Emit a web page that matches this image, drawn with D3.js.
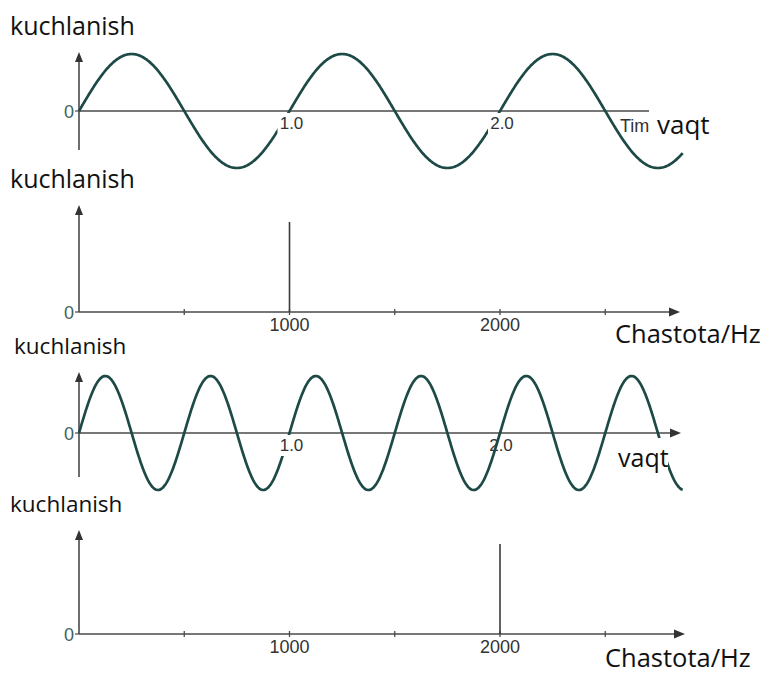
<!DOCTYPE html>
<html>
<head>
<meta charset="utf-8">
<script src="https://cdn.jsdelivr.net/npm/d3@7"></script>
<style>
  html, body { margin: 0; padding: 0; background: #fff; }
  svg { display: block; }
</style>
</head>
<body>
<div id="chart"></div>
<script>
// signal data
const sineFreqs = [1, 2];          // Hz of the sine in each time panel
const sineAmps = [1, 1];
const sineEnd = [2.87, 2.87];      // time where each drawn wave stops
const timeTicks = [1.0, 2.0];
const spikeFreqs = [1000, 2000];   // single spectral line per spectrum panel
const spikeAmps = [1, 1];
const freqTicks = [1000, 2000];
const freqMinorTicks = [500, 1500, 2500];

const yTitle = 'kuchlanish';
const timeTitle = 'vaqt';
const freqTitle = 'Chastota/Hz';

const W = 769, H = 673;
const waveColor = '#1d4a46';
const axisColor = '#4a4a4a';
const tickFont = '"Liberation Sans", Arial, sans-serif';
const titleFont = '"Open Sans", sans-serif';

const svg = d3.select('#chart').append('svg')
  .attr('width', W).attr('height', H);

const xTime = d3.scaleLinear().domain([0, 1]).range([79, 289.5]);
const xFreq = d3.scaleLinear().domain([0, 1000]).range([79, 289.5]);

function arrowUp(g, x, y) {
  g.append('path').attr('d', `M${x},${y} L${x - 4},${y + 10} L${x + 4},${y + 10} Z`).attr('fill', '#333');
}
function arrowRight(g, x, y) {
  g.append('path').attr('d', `M${x},${y} L${x - 11},${y - 4.5} L${x - 11},${y + 4.5} Z`).attr('fill', '#333');
}
function title(g, txt, x, y, size) {
  g.append('text').attr('x', x).attr('y', y).attr('font-family', titleFont)
    .attr('font-size', size).attr('fill', '#111').text(txt);
}
function zeroLabel(g, y0) {
  g.append('line').attr('x1', 75).attr('x2', 79).attr('y1', y0).attr('y2', y0)
    .attr('stroke', axisColor).attr('stroke-width', 1.2);
  g.append('text').attr('x', 74).attr('y', y0 + 6.5).attr('text-anchor', 'end')
    .attr('font-family', tickFont).attr('font-size', 18).attr('fill', '#3d6360').text('0');
}

// time panels
const timePanels = [
  { zero: 111, top: 52, bottom: 150, axisEnd: 680, titleY: 35, titleX: 10, titleSize: 25,
    maskTicks: [true, true], timeLbl: [657, 134], timeSize: 26, timeBox: [649, 100, 72, 47], showTime: true },
  { zero: 433, top: 372, bottom: 477, axisEnd: 681, titleY: 354, titleX: 14, titleSize: 22.5,
    maskTicks: [true, false], timeLbl: [618, 467], timeSize: 25, timeBox: [615, 438, 53, 35], showTime: false }
];

timePanels.forEach((p, i) => {
  const g = svg.append('g');
  const y = d3.scaleLinear().domain([-1, 1]).range([p.zero + 57, p.zero - 57]);

  title(g, yTitle, p.titleX, p.titleY, p.titleSize);

  // axes
  g.append('line').attr('x1', 79).attr('x2', 79).attr('y1', p.bottom).attr('y2', p.top + 8)
    .attr('stroke', axisColor).attr('stroke-width', 1.6);
  arrowUp(g, 79, p.top);
  g.append('line').attr('x1', 79).attr('x2', p.axisEnd - 8).attr('y1', p.zero).attr('y2', p.zero)
    .attr('stroke', axisColor).attr('stroke-width', 1.6);
  arrowRight(g, p.axisEnd, p.zero);
  zeroLabel(g, p.zero);

  // unmasked tick labels sit under the wave
  timeTicks.forEach((t, k) => {
    if (!p.maskTicks[k]) {
      g.append('text').attr('x', xTime(t) + 1).attr('y', p.zero + 18).attr('text-anchor', 'middle')
        .attr('font-family', tickFont).attr('font-size', 17).attr('fill', '#333').text(t.toFixed(1));
    }
  });

  const pts = d3.range(0, sineEnd[i] + 1e-9, 0.004)
    .map(t => [t, sineAmps[i] * Math.sin(2 * Math.PI * sineFreqs[i] * t)]);
  g.append('path').datum(pts)
    .attr('d', d3.line().x(d => xTime(d[0])).y(d => y(d[1])))
    .attr('fill', 'none').attr('stroke', waveColor).attr('stroke-width', 2.7);

  // masked tick labels cover the wave with a white box
  timeTicks.forEach((t, k) => {
    if (p.maskTicks[k]) {
      const cx = xTime(t) + 2;
      g.append('rect').attr('x', cx - 14).attr('y', p.zero + 2).attr('width', 30).attr('height', 21).attr('fill', '#fff');
      g.append('text').attr('x', cx).attr('y', p.zero + 18).attr('text-anchor', 'middle')
        .attr('font-family', tickFont).attr('font-size', 17).attr('fill', '#333').text(t.toFixed(1));
    }
  });

  if (p.showTime) {
    g.append('text').attr('x', 620).attr('y', p.zero + 21).attr('font-family', tickFont)
      .attr('font-size', 18).attr('fill', '#333').text('Time');
  }
  g.append('rect').attr('x', p.timeBox[0]).attr('y', p.timeBox[1])
    .attr('width', p.timeBox[2]).attr('height', p.timeBox[3]).attr('fill', '#fff');
  title(g, timeTitle, p.timeLbl[0], p.timeLbl[1], p.timeSize);
});

// spectrum panels
const freqPanels = [
  { zero: 312, top: 205, axisEnd: 680, titleY: 188, titleX: 10, titleSize: 25, fLbl: [615, 343] },
  { zero: 634, top: 530, axisEnd: 685, titleY: 512, titleX: 10, titleSize: 22.5, fLbl: [605, 667] }
];

freqPanels.forEach((p, i) => {
  const g = svg.append('g');
  const y = d3.scaleLinear().domain([0, 1]).range([p.zero, p.zero - 90]);

  title(g, yTitle, p.titleX, p.titleY, p.titleSize);

  g.append('line').attr('x1', 79).attr('x2', 79).attr('y1', p.zero).attr('y2', p.top + 8)
    .attr('stroke', axisColor).attr('stroke-width', 1.6);
  arrowUp(g, 79, p.top);
  g.append('line').attr('x1', 79).attr('x2', p.axisEnd - 8).attr('y1', p.zero).attr('y2', p.zero)
    .attr('stroke', axisColor).attr('stroke-width', 1.6);
  arrowRight(g, p.axisEnd, p.zero);
  zeroLabel(g, p.zero);

  freqMinorTicks.concat(freqTicks).forEach(f => {
    g.append('line').attr('x1', xFreq(f)).attr('x2', xFreq(f)).attr('y1', p.zero - 3).attr('y2', p.zero + 3)
      .attr('stroke', axisColor).attr('stroke-width', 1.3);
  });

  g.append('line')
    .attr('x1', xFreq(spikeFreqs[i])).attr('x2', xFreq(spikeFreqs[i]))
    .attr('y1', y(0)).attr('y2', y(spikeAmps[i]))
    .attr('stroke', '#3a3a3a').attr('stroke-width', 1.6);

  freqTicks.forEach(f => {
    g.append('rect').attr('x', xFreq(f) - 21).attr('y', p.zero + 3).attr('width', 42).attr('height', 19).attr('fill', '#fff');
    g.append('text').attr('x', xFreq(f)).attr('y', p.zero + 19).attr('text-anchor', 'middle')
      .attr('font-family', tickFont).attr('font-size', 18).attr('fill', '#333').text(f);
  });

  title(g, freqTitle, p.fLbl[0], p.fLbl[1], 25.5);
});
</script>
</body>
</html>
